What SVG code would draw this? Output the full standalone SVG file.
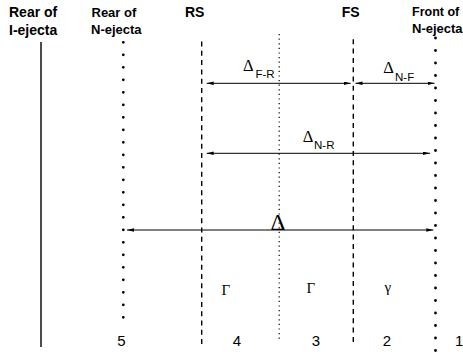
<svg xmlns="http://www.w3.org/2000/svg" width="463" height="352" viewBox="0 0 463 352">
<style>
.bg{fill:#fff}
.hdr{font-family:"Liberation Sans",Arial,sans-serif;font-weight:bold;fill:#000}
.num{font-family:"Liberation Sans",Arial,sans-serif;font-size:15px;fill:#000}
.gr{font-family:"Liberation Serif","Times New Roman",serif;fill:#000}
.sub{font-family:"Liberation Sans",Arial,sans-serif;font-size:11.5px;fill:#000}
.solid{stroke:#000;stroke-width:1.4;fill:none}
.bigdot{stroke:#000;stroke-width:2.8;stroke-linecap:round;stroke-dasharray:0 12.5;fill:none}
.dash{stroke:#000;stroke-width:1.4;stroke-dasharray:5 4.3;fill:none}
.fine{stroke:#000;stroke-width:1.2;stroke-dasharray:1.2 3.4;fill:none}
.arr{stroke:#000;stroke-width:1;fill:none;marker-start:url(#ah);marker-end:url(#ah)}
</style>
<defs>
<marker id="ah" markerUnits="userSpaceOnUse" markerWidth="8" markerHeight="4" refX="7" refY="1.75" orient="auto-start-reverse">
<path d="M0,0 L7,1.75 L0,3.5 Z" fill="#000"/>
</marker>
</defs>
<rect class="bg" x="0" y="0" width="463" height="352"/>

<g id="rear-i-ejecta">
<text class="hdr" font-size="14" x="9" y="16.7">Rear of</text>
<text class="hdr" font-size="14" x="9" y="34.5">I-ejecta</text>
<line class="solid" x1="41" y1="42" x2="41" y2="347"/>
</g>

<g id="rear-n-ejecta">
<text class="hdr" font-size="13" x="91.5" y="16.7">Rear of</text>
<text class="hdr" font-size="13" x="91" y="33.5">N-ejecta</text>
<line class="bigdot" x1="123.3" y1="42.3" x2="123.3" y2="320"/>
</g>

<g id="reverse-shock">
<text class="hdr" font-size="14" x="185" y="16.7">RS</text>
<line class="dash" x1="201.7" y1="41.5" x2="201.7" y2="347"/>
</g>

<g id="contact-discontinuity">
<line class="fine" x1="279.2" y1="34" x2="279.2" y2="341"/>
</g>

<g id="forward-shock">
<text class="hdr" font-size="14" x="341.7" y="16.7">FS</text>
<line class="dash" x1="353.3" y1="39.3" x2="353.3" y2="343"/>
</g>

<g id="front-n-ejecta">
<text class="hdr" font-size="12.5" x="412" y="16">Front of</text>
<text class="hdr" font-size="13" x="412" y="33">N-ejecta</text>
<line class="bigdot" x1="435.5" y1="38" x2="435.5" y2="351"/>
</g>

<g id="connectors">
<line class="arr" x1="206.7" y1="83.3" x2="350.7" y2="83.3"/>
<line class="arr" x1="355.5" y1="83.3" x2="434.5" y2="83.3"/>
<line class="arr" x1="206.7" y1="153.3" x2="430" y2="153.3"/>
<line class="arr" x1="127" y1="230" x2="433.3" y2="230"/>
</g>

<g id="label-delta-fr">
<text class="gr" font-size="16.5" x="243" y="70.7">Δ</text>
<text class="sub" x="255.5" y="78.3">F-R</text>
</g>
<g id="label-delta-nf">
<text class="gr" font-size="16.5" x="383.3" y="73.3">Δ</text>
<text class="sub" x="395" y="80.7">N-F</text>
</g>
<g id="label-delta-nr">
<text class="gr" font-size="16.5" x="302.7" y="141.7">Δ</text>
<text class="sub" x="314" y="149">N-R</text>
</g>
<g id="label-delta">
<text class="gr" font-size="23" x="270.5" y="230">Δ</text>
</g>

<g id="region-5"><text class="num" x="117.3" y="346">5</text></g>
<g id="region-4">
<text class="gr" font-size="15" x="221.5" y="295">Γ</text>
<text class="num" x="232.7" y="346">4</text>
</g>
<g id="region-3">
<text class="gr" font-size="15" x="306.5" y="293">Γ</text>
<text class="num" x="311.7" y="346">3</text>
</g>
<g id="region-2">
<text class="gr" font-size="15" x="384.5" y="292">γ</text>
<text class="num" x="382.7" y="346">2</text>
</g>
<g id="region-1"><text class="num" x="455" y="346">1</text></g>
</svg>
